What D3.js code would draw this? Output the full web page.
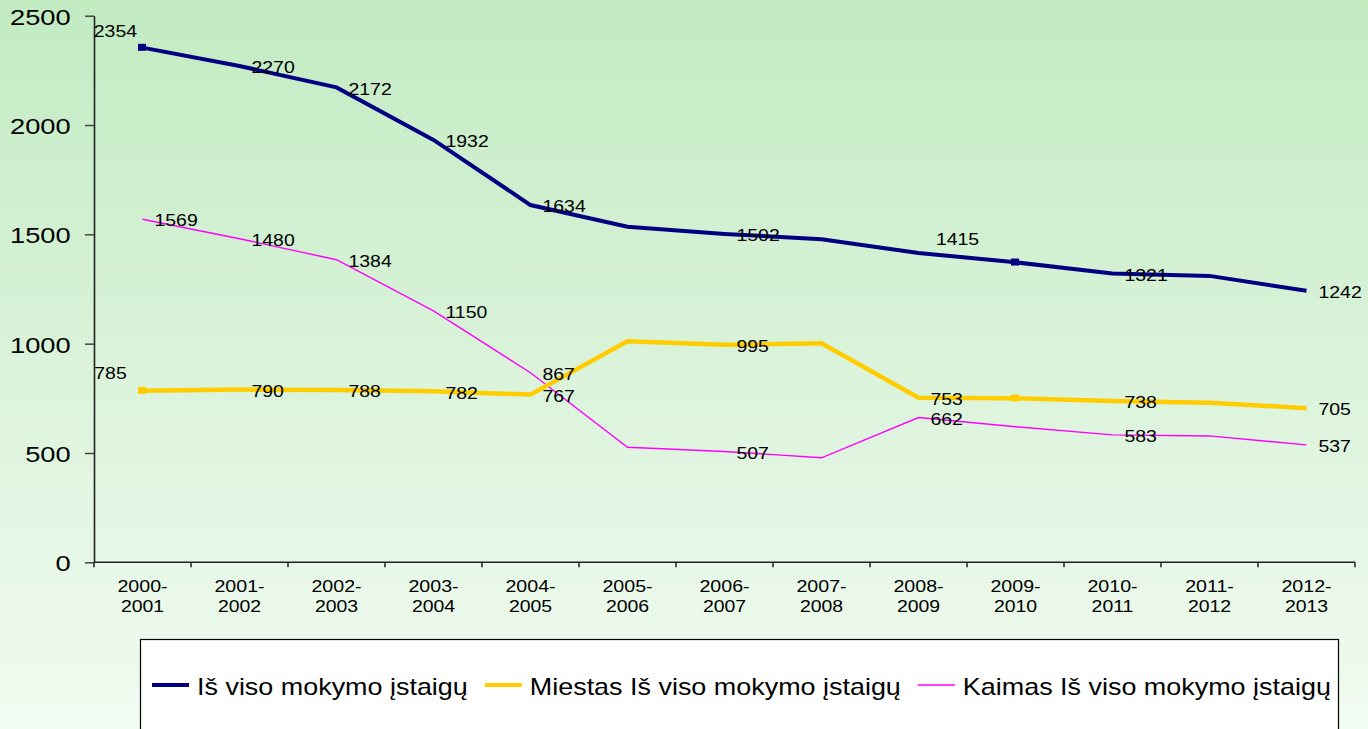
<!DOCTYPE html>
<html>
<head>
<meta charset="utf-8">
<script src="https://cdn.jsdelivr.net/npm/d3@7/dist/d3.min.js"></script>
<style>
  html, body { margin: 0; padding: 0; background: #fff; }
  svg { display: block; }
  text { font-family: "Liberation Sans", Arial, sans-serif; fill: #000; }
</style>
</head>
<body>
<svg id="chart" width="1368" height="729"></svg>
<script>
// ---------- data ----------
const categories = ["2000-2001","2001-2002","2002-2003","2003-2004","2004-2005","2005-2006","2006-2007","2007-2008","2008-2009","2009-2010","2010-2011","2011-2012","2012-2013"];
const seriesNames = ["Iš viso mokymo įstaigų", "Miestas Iš viso mokymo įstaigų", "Kaimas Iš viso mokymo įstaigų"];
const totalValues = [2354, 2270, 2172, 1932, 1634, 1535, 1502, 1478, 1415, 1372, 1321, 1310, 1242];
const cityValues  = [785, 790, 788, 782, 767, 1011, 995, 1002, 753, 750, 738, 730, 705];
const ruralValues = [1569, 1480, 1384, 1150, 867, 526, 507, 478, 662, 620, 583, 578, 537];
const labeledIndexes = [0, 1, 2, 3, 4, 6, 8, 10, 12];
const markerIndexes = [0, 9];
const yTicks = [0, 500, 1000, 1500, 2000, 2500];

// ---------- layout / style ----------
const svg = d3.select("#chart");
const W = 1368, H = 729;
const plot = { left: 94, right: 1355, top: 15.7, bottom: 562.3 };

const defs = svg.append("defs");
const grad = defs.append("linearGradient").attr("id", "bg").attr("x1", 0).attr("y1", 0).attr("x2", 0).attr("y2", 1);
grad.append("stop").attr("offset", "0%").attr("stop-color", "#c2ebc2");
grad.append("stop").attr("offset", "100%").attr("stop-color", "#f2fbf2");
svg.append("rect").attr("width", W).attr("height", H).attr("fill", "url(#bg)");

const x = d3.scaleBand().domain(categories).range([plot.left, plot.right]);
const cx = c => x(c) + x.bandwidth() / 2;
const y = d3.scaleLinear().domain([0, 2500]).range([plot.bottom, plot.top]);

function stretchText(sel, px, py, sx) {
  sel.attr("x", 0).attr("y", 0).attr("transform", `translate(${px},${py}) scale(${sx},1)`);
}

// ---------- y axis ----------
const yAxis = svg.append("g").attr("transform", `translate(${plot.left},0)`)
  .call(d3.axisLeft(y).tickValues(yTicks).tickSize(9).tickSizeOuter(0).tickFormat(d3.format("d")));
yAxis.select(".domain").attr("stroke", "#222").attr("stroke-width", 1.6);
yAxis.selectAll(".tick line").attr("stroke", "#444").attr("stroke-width", 1.5);
yAxis.selectAll(".tick text")
  .attr("font-size", 21.5).attr("fill", "#000").attr("text-anchor", "end").attr("dy", null)
  .attr("font-family", "Liberation Sans, Arial, sans-serif")
  .each(function () { stretchText(d3.select(this), -23.3, 8.4, 1.27); });

// ---------- x axis ----------
const xAxisG = svg.append("g");
xAxisG.append("line").attr("x1", plot.left).attr("x2", plot.right)
  .attr("y1", plot.bottom).attr("y2", plot.bottom).attr("stroke", "#222").attr("stroke-width", 1.6);
const boundaries = categories.map(c => x(c)).concat([x(categories[categories.length - 1]) + x.bandwidth()]);
xAxisG.selectAll("line.tk").data(boundaries).join("line").attr("class", "tk")
  .attr("x1", d => d).attr("x2", d => d).attr("y1", plot.bottom).attr("y2", plot.bottom + 5)
  .attr("stroke", "#222").attr("stroke-width", 1.5);
const xl = xAxisG.selectAll("g.xl").data(categories).join("g").attr("class", "xl");
xl.append("text").attr("font-size", 17.2).attr("text-anchor", "middle")
  .text(d => d.split("-")[0] + "-")
  .each(function (d) { stretchText(d3.select(this), cx(d), 591.7, 1.14); });
xl.append("text").attr("font-size", 17.2).attr("text-anchor", "middle")
  .text(d => d.split("-")[1])
  .each(function (d) { stretchText(d3.select(this), cx(d), 612.3, 1.13); });

// ---------- lines ----------
const series = [
  { name: seriesNames[0], values: totalValues, color: "#000080", width: 4, markers: true },
  { name: seriesNames[1], values: cityValues,  color: "#FFCC00", width: 4.5, markers: true },
  { name: seriesNames[2], values: ruralValues, color: "#FF00FF", width: 1.4, markers: false }
];
const line = d3.line().x((d, i) => cx(categories[i])).y(d => y(d));

[series[2], series[1], series[0]].forEach(s => {
  svg.append("path").datum(s.values).attr("d", line)
    .attr("fill", "none").attr("stroke", s.color).attr("stroke-width", s.width)
    .attr("stroke-linejoin", "miter");
  if (s.markers) {
    svg.selectAll(null).data(markerIndexes).join("rect")
      .attr("x", i => cx(categories[i]) - 4.5).attr("y", i => y(s.values[i]) - 3.8)
      .attr("width", 8).attr("height", 7).attr("fill", s.color);
  }
});

// ---------- data labels ----------
// default: right of point, vertically centred; a few labels are moved as in the original
function labelPos(si, i, px, py) {
  if (si === 0 && i === 0) return { x: px - 5.5, y: py - 11, anchor: "end" };
  if (si === 1 && i === 0) return { x: px - 15.8, y: py - 11.8, anchor: "end" };
  if (si === 0 && i === 8) return { x: px + 17.4, y: py - 8.4, anchor: "start" };
  return { x: px + 12, y: py + 7.2, anchor: "start" };
}
series.forEach((s, si) => {
  labeledIndexes.forEach(i => {
    const px = cx(categories[i]), py = y(s.values[i]);
    const p = labelPos(si, i, px, py);
    svg.append("text").attr("font-size", 17.2).attr("text-anchor", p.anchor)
      .text(s.values[i])
      .each(function () { stretchText(d3.select(this), p.x, p.y, 1.13); });
  });
});

// ---------- legend ----------
const legend = svg.append("g");
legend.append("rect").attr("x", 140.5).attr("y", 639.5).attr("width", 1198).attr("height", 100)
  .attr("fill", "#fff").attr("stroke", "#000").attr("stroke-width", 1.2);
let lx = 152;
const ly = 685;
series.forEach((s, si) => {
  legend.append("line").attr("x1", lx).attr("x2", lx + 37).attr("y1", ly).attr("y2", ly)
    .attr("stroke", s.color).attr("stroke-width", si === 2 ? 1.6 : 4);
  const t = legend.append("text").attr("font-size", 24).attr("text-anchor", "start").text(s.name);
  const tx = lx + 45;
  stretchText(t, tx, 695, 1.122);
  const w = t.node().getComputedTextLength() * 1.122;
  lx = tx + w + 17;
});
</script>
</body>
</html>
